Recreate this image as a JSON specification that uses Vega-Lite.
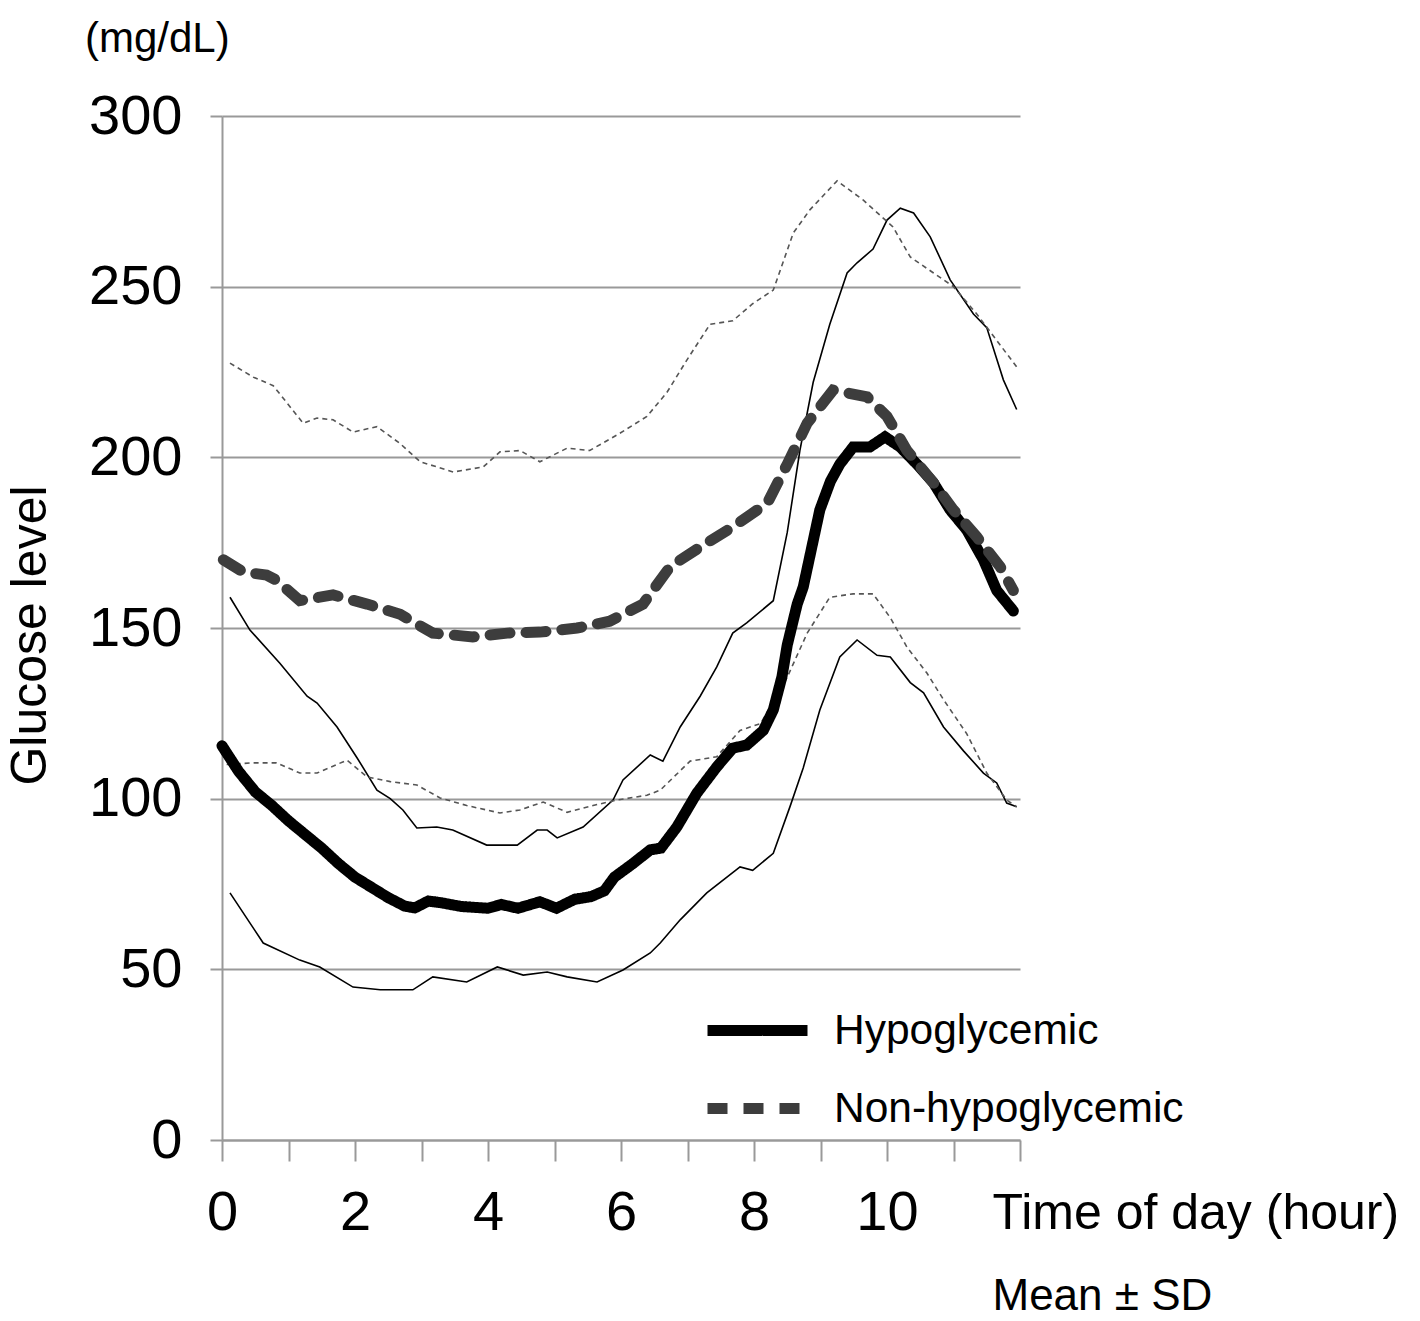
{
  "$schema": "https://vega.github.io/schema/vega-lite/v6.json",
  "autosize": "none",
  "padding": {"left": 222, "top": 116, "right": 400, "bottom": 181},
  "width": 798,
  "height": 1024,
  "background": "white",
  "config": {"font": "Liberation Sans", "view": {"stroke": null}},
  "title": {"text": "(mg/dL)", "anchor": "start", "frame": "group", "orient": "top", "fontSize": 42, "fontWeight": "normal", "color": "black", "baseline": "alphabetic", "dx": -137, "offset": -6},
  "datasets": {
    "d": [
      {"g":"Hypoglycemic","s":"mean","h":0,"v":115.5},{"g":"Hypoglycemic","s":"mean","h":0.25,"v":108},{"g":"Hypoglycemic","s":"mean","h":0.5,"v":102},{"g":"Hypoglycemic","s":"mean","h":0.75,"v":98},{"g":"Hypoglycemic","s":"mean","h":1,"v":93.5},{"g":"Hypoglycemic","s":"mean","h":1.25,"v":89.5},{"g":"Hypoglycemic","s":"mean","h":1.5,"v":85.5},{"g":"Hypoglycemic","s":"mean","h":1.75,"v":81},{"g":"Hypoglycemic","s":"mean","h":2,"v":77},{"g":"Hypoglycemic","s":"mean","h":2.25,"v":74},{"g":"Hypoglycemic","s":"mean","h":2.5,"v":71},{"g":"Hypoglycemic","s":"mean","h":2.75,"v":68.5},{"g":"Hypoglycemic","s":"mean","h":2.9,"v":68},{"g":"Hypoglycemic","s":"mean","h":3.1,"v":70},{"g":"Hypoglycemic","s":"mean","h":3.3,"v":69.5},{"g":"Hypoglycemic","s":"mean","h":3.6,"v":68.4},{"g":"Hypoglycemic","s":"mean","h":4,"v":67.9},{"g":"Hypoglycemic","s":"mean","h":4.2,"v":69},{"g":"Hypoglycemic","s":"mean","h":4.45,"v":67.9},{"g":"Hypoglycemic","s":"mean","h":4.78,"v":69.8},{"g":"Hypoglycemic","s":"mean","h":5.03,"v":67.9},{"g":"Hypoglycemic","s":"mean","h":5.3,"v":70.5},{"g":"Hypoglycemic","s":"mean","h":5.55,"v":71.3},{"g":"Hypoglycemic","s":"mean","h":5.75,"v":73},{"g":"Hypoglycemic","s":"mean","h":5.9,"v":77},{"g":"Hypoglycemic","s":"mean","h":6.18,"v":81},{"g":"Hypoglycemic","s":"mean","h":6.44,"v":85},{"g":"Hypoglycemic","s":"mean","h":6.6,"v":85.5},{"g":"Hypoglycemic","s":"mean","h":6.84,"v":91.7},{"g":"Hypoglycemic","s":"mean","h":7.14,"v":101.6},{"g":"Hypoglycemic","s":"mean","h":7.44,"v":109.3},{"g":"Hypoglycemic","s":"mean","h":7.68,"v":114.8},{"g":"Hypoglycemic","s":"mean","h":7.89,"v":115.7},{"g":"Hypoglycemic","s":"mean","h":8.14,"v":120},{"g":"Hypoglycemic","s":"mean","h":8.29,"v":126},{"g":"Hypoglycemic","s":"mean","h":8.42,"v":135.7},{"g":"Hypoglycemic","s":"mean","h":8.5,"v":145},{"g":"Hypoglycemic","s":"mean","h":8.65,"v":157},{"g":"Hypoglycemic","s":"mean","h":8.74,"v":162},{"g":"Hypoglycemic","s":"mean","h":8.99,"v":184.6},{"g":"Hypoglycemic","s":"mean","h":9.15,"v":193},{"g":"Hypoglycemic","s":"mean","h":9.29,"v":198},{"g":"Hypoglycemic","s":"mean","h":9.49,"v":203},{"g":"Hypoglycemic","s":"mean","h":9.74,"v":203},{"g":"Hypoglycemic","s":"mean","h":9.97,"v":206},{"g":"Hypoglycemic","s":"mean","h":10.2,"v":203},{"g":"Hypoglycemic","s":"mean","h":10.45,"v":198},{"g":"Hypoglycemic","s":"mean","h":10.7,"v":192.5},{"g":"Hypoglycemic","s":"mean","h":10.95,"v":184.6},{"g":"Hypoglycemic","s":"mean","h":11.2,"v":178.7},{"g":"Hypoglycemic","s":"mean","h":11.45,"v":170},{"g":"Hypoglycemic","s":"mean","h":11.65,"v":161},{"g":"Hypoglycemic","s":"mean","h":11.9,"v":155},
      {"g":"Hypoglycemic","s":"upper","h":0.12,"v":159},{"g":"Hypoglycemic","s":"upper","h":0.42,"v":149.4},{"g":"Hypoglycemic","s":"upper","h":0.87,"v":139.7},{"g":"Hypoglycemic","s":"upper","h":1.28,"v":130},{"g":"Hypoglycemic","s":"upper","h":1.43,"v":128},{"g":"Hypoglycemic","s":"upper","h":1.73,"v":121},{"g":"Hypoglycemic","s":"upper","h":2.03,"v":112},{"g":"Hypoglycemic","s":"upper","h":2.33,"v":102.5},{"g":"Hypoglycemic","s":"upper","h":2.53,"v":100},{"g":"Hypoglycemic","s":"upper","h":2.72,"v":96.7},{"g":"Hypoglycemic","s":"upper","h":2.93,"v":91.4},{"g":"Hypoglycemic","s":"upper","h":3.23,"v":91.7},{"g":"Hypoglycemic","s":"upper","h":3.47,"v":90.8},{"g":"Hypoglycemic","s":"upper","h":3.98,"v":86.4},{"g":"Hypoglycemic","s":"upper","h":4.44,"v":86.4},{"g":"Hypoglycemic","s":"upper","h":4.74,"v":90.8},{"g":"Hypoglycemic","s":"upper","h":4.89,"v":90.8},{"g":"Hypoglycemic","s":"upper","h":5.04,"v":88.5},{"g":"Hypoglycemic","s":"upper","h":5.43,"v":91.7},{"g":"Hypoglycemic","s":"upper","h":5.88,"v":99.6},{"g":"Hypoglycemic","s":"upper","h":6.03,"v":105.5},{"g":"Hypoglycemic","s":"upper","h":6.44,"v":112.8},{"g":"Hypoglycemic","s":"upper","h":6.63,"v":111},{"g":"Hypoglycemic","s":"upper","h":6.89,"v":121},{"g":"Hypoglycemic","s":"upper","h":7.19,"v":130},{"g":"Hypoglycemic","s":"upper","h":7.44,"v":138.6},{"g":"Hypoglycemic","s":"upper","h":7.68,"v":148.5},{"g":"Hypoglycemic","s":"upper","h":7.89,"v":151.5},{"g":"Hypoglycemic","s":"upper","h":8.29,"v":158},{"g":"Hypoglycemic","s":"upper","h":8.5,"v":178},{"g":"Hypoglycemic","s":"upper","h":8.69,"v":202},{"g":"Hypoglycemic","s":"upper","h":8.89,"v":222},{"g":"Hypoglycemic","s":"upper","h":9.14,"v":239},{"g":"Hypoglycemic","s":"upper","h":9.4,"v":254},{"g":"Hypoglycemic","s":"upper","h":9.55,"v":257},{"g":"Hypoglycemic","s":"upper","h":9.79,"v":261},{"g":"Hypoglycemic","s":"upper","h":10.0,"v":269.5},{"g":"Hypoglycemic","s":"upper","h":10.2,"v":273},{"g":"Hypoglycemic","s":"upper","h":10.4,"v":271.6},{"g":"Hypoglycemic","s":"upper","h":10.65,"v":264.6},{"g":"Hypoglycemic","s":"upper","h":10.95,"v":252},{"g":"Hypoglycemic","s":"upper","h":11.3,"v":242},{"g":"Hypoglycemic","s":"upper","h":11.5,"v":238},{"g":"Hypoglycemic","s":"upper","h":11.75,"v":222.7},{"g":"Hypoglycemic","s":"upper","h":11.95,"v":214},
      {"g":"Hypoglycemic","s":"lower","h":0.12,"v":72.4},{"g":"Hypoglycemic","s":"lower","h":0.62,"v":57.7},{"g":"Hypoglycemic","s":"lower","h":1.17,"v":52.7},{"g":"Hypoglycemic","s":"lower","h":1.47,"v":50.7},{"g":"Hypoglycemic","s":"lower","h":1.97,"v":44.8},{"g":"Hypoglycemic","s":"lower","h":2.38,"v":44},{"g":"Hypoglycemic","s":"lower","h":2.87,"v":44},{"g":"Hypoglycemic","s":"lower","h":3.17,"v":47.8},{"g":"Hypoglycemic","s":"lower","h":3.68,"v":46.3},{"g":"Hypoglycemic","s":"lower","h":4.14,"v":50.7},{"g":"Hypoglycemic","s":"lower","h":4.53,"v":48.3},{"g":"Hypoglycemic","s":"lower","h":4.89,"v":49.2},{"g":"Hypoglycemic","s":"lower","h":5.19,"v":47.8},{"g":"Hypoglycemic","s":"lower","h":5.64,"v":46.3},{"g":"Hypoglycemic","s":"lower","h":6.03,"v":49.8},{"g":"Hypoglycemic","s":"lower","h":6.44,"v":54.8},{"g":"Hypoglycemic","s":"lower","h":6.59,"v":57.7},{"g":"Hypoglycemic","s":"lower","h":6.89,"v":64.5},{"g":"Hypoglycemic","s":"lower","h":7.29,"v":72.4},{"g":"Hypoglycemic","s":"lower","h":7.79,"v":80},{"g":"Hypoglycemic","s":"lower","h":7.98,"v":79},{"g":"Hypoglycemic","s":"lower","h":8.29,"v":84},{"g":"Hypoglycemic","s":"lower","h":8.54,"v":97.6},{"g":"Hypoglycemic","s":"lower","h":8.74,"v":109},{"g":"Hypoglycemic","s":"lower","h":8.99,"v":126},{"g":"Hypoglycemic","s":"lower","h":9.29,"v":141.5},{"g":"Hypoglycemic","s":"lower","h":9.55,"v":146.5},{"g":"Hypoglycemic","s":"lower","h":9.85,"v":142},{"g":"Hypoglycemic","s":"lower","h":10.05,"v":141.5},{"g":"Hypoglycemic","s":"lower","h":10.35,"v":134},{"g":"Hypoglycemic","s":"lower","h":10.55,"v":131},{"g":"Hypoglycemic","s":"lower","h":10.85,"v":121},{"g":"Hypoglycemic","s":"lower","h":11.15,"v":114},{"g":"Hypoglycemic","s":"lower","h":11.45,"v":107.5},{"g":"Hypoglycemic","s":"lower","h":11.65,"v":104.6},{"g":"Hypoglycemic","s":"lower","h":11.8,"v":98.7},{"g":"Hypoglycemic","s":"lower","h":11.95,"v":97.6},
      {"g":"Non-hypoglycemic","s":"mean","h":0.02,"v":170},{"g":"Non-hypoglycemic","s":"mean","h":0.32,"v":166.4},{"g":"Non-hypoglycemic","s":"mean","h":0.67,"v":165.5},{"g":"Non-hypoglycemic","s":"mean","h":0.82,"v":164},{"g":"Non-hypoglycemic","s":"mean","h":1.17,"v":158},{"g":"Non-hypoglycemic","s":"mean","h":1.67,"v":159.7},{"g":"Non-hypoglycemic","s":"mean","h":2.18,"v":157},{"g":"Non-hypoglycemic","s":"mean","h":2.68,"v":154},{"g":"Non-hypoglycemic","s":"mean","h":3.17,"v":148.5},{"g":"Non-hypoglycemic","s":"mean","h":3.77,"v":147.4},{"g":"Non-hypoglycemic","s":"mean","h":4.29,"v":148.5},{"g":"Non-hypoglycemic","s":"mean","h":4.78,"v":148.8},{"g":"Non-hypoglycemic","s":"mean","h":5.34,"v":150},{"g":"Non-hypoglycemic","s":"mean","h":5.83,"v":152},{"g":"Non-hypoglycemic","s":"mean","h":6.33,"v":157},{"g":"Non-hypoglycemic","s":"mean","h":6.74,"v":168},{"g":"Non-hypoglycemic","s":"mean","h":7.19,"v":173.7},{"g":"Non-hypoglycemic","s":"mean","h":7.68,"v":179.6},{"g":"Non-hypoglycemic","s":"mean","h":8.2,"v":186.6},{"g":"Non-hypoglycemic","s":"mean","h":8.5,"v":198},{"g":"Non-hypoglycemic","s":"mean","h":8.8,"v":210},{"g":"Non-hypoglycemic","s":"mean","h":9.19,"v":219.7},{"g":"Non-hypoglycemic","s":"mean","h":9.7,"v":217.7},{"g":"Non-hypoglycemic","s":"mean","h":10.0,"v":212},{"g":"Non-hypoglycemic","s":"mean","h":10.3,"v":202},{"g":"Non-hypoglycemic","s":"mean","h":10.7,"v":192.5},{"g":"Non-hypoglycemic","s":"mean","h":11.0,"v":184.6},{"g":"Non-hypoglycemic","s":"mean","h":11.35,"v":176.7},{"g":"Non-hypoglycemic","s":"mean","h":11.7,"v":168},{"g":"Non-hypoglycemic","s":"mean","h":11.9,"v":161},
      {"g":"Non-hypoglycemic","s":"upper","h":0.12,"v":227.6},{"g":"Non-hypoglycemic","s":"upper","h":0.47,"v":223.5},{"g":"Non-hypoglycemic","s":"upper","h":0.77,"v":221},{"g":"Non-hypoglycemic","s":"upper","h":1.22,"v":210},{"g":"Non-hypoglycemic","s":"upper","h":1.43,"v":211.5},{"g":"Non-hypoglycemic","s":"upper","h":1.67,"v":211},{"g":"Non-hypoglycemic","s":"upper","h":1.97,"v":207.4},{"g":"Non-hypoglycemic","s":"upper","h":2.33,"v":209},{"g":"Non-hypoglycemic","s":"upper","h":2.68,"v":204},{"g":"Non-hypoglycemic","s":"upper","h":2.98,"v":198.7},{"g":"Non-hypoglycemic","s":"upper","h":3.48,"v":195.7},{"g":"Non-hypoglycemic","s":"upper","h":3.93,"v":197.2},{"g":"Non-hypoglycemic","s":"upper","h":4.18,"v":201.6},{"g":"Non-hypoglycemic","s":"upper","h":4.48,"v":202},{"g":"Non-hypoglycemic","s":"upper","h":4.78,"v":198.7},{"g":"Non-hypoglycemic","s":"upper","h":5.19,"v":202.7},{"g":"Non-hypoglycemic","s":"upper","h":5.53,"v":202},{"g":"Non-hypoglycemic","s":"upper","h":5.98,"v":207},{"g":"Non-hypoglycemic","s":"upper","h":6.39,"v":212},{"g":"Non-hypoglycemic","s":"upper","h":6.69,"v":219},{"g":"Non-hypoglycemic","s":"upper","h":6.99,"v":228.5},{"g":"Non-hypoglycemic","s":"upper","h":7.34,"v":239},{"g":"Non-hypoglycemic","s":"upper","h":7.68,"v":240},{"g":"Non-hypoglycemic","s":"upper","h":7.98,"v":245},{"g":"Non-hypoglycemic","s":"upper","h":8.29,"v":249},{"g":"Non-hypoglycemic","s":"upper","h":8.59,"v":265.7},{"g":"Non-hypoglycemic","s":"upper","h":8.84,"v":272.5},{"g":"Non-hypoglycemic","s":"upper","h":9.25,"v":281},{"g":"Non-hypoglycemic","s":"upper","h":9.64,"v":275.4},{"g":"Non-hypoglycemic","s":"upper","h":10.09,"v":267.5},{"g":"Non-hypoglycemic","s":"upper","h":10.35,"v":258.7},{"g":"Non-hypoglycemic","s":"upper","h":10.7,"v":254},{"g":"Non-hypoglycemic","s":"upper","h":11.0,"v":250},{"g":"Non-hypoglycemic","s":"upper","h":11.35,"v":242},{"g":"Non-hypoglycemic","s":"upper","h":11.95,"v":226.5},
      {"g":"Non-hypoglycemic","s":"lower","h":0.07,"v":110},{"g":"Non-hypoglycemic","s":"lower","h":0.47,"v":110.5},{"g":"Non-hypoglycemic","s":"lower","h":0.82,"v":110.5},{"g":"Non-hypoglycemic","s":"lower","h":1.17,"v":107.5},{"g":"Non-hypoglycemic","s":"lower","h":1.43,"v":107.5},{"g":"Non-hypoglycemic","s":"lower","h":1.88,"v":111.3},{"g":"Non-hypoglycemic","s":"lower","h":2.18,"v":106.4},{"g":"Non-hypoglycemic","s":"lower","h":2.53,"v":105},{"g":"Non-hypoglycemic","s":"lower","h":2.93,"v":104},{"g":"Non-hypoglycemic","s":"lower","h":3.28,"v":100.2},{"g":"Non-hypoglycemic","s":"lower","h":3.68,"v":98},{"g":"Non-hypoglycemic","s":"lower","h":4.18,"v":95.8},{"g":"Non-hypoglycemic","s":"lower","h":4.48,"v":96.7},{"g":"Non-hypoglycemic","s":"lower","h":4.83,"v":99},{"g":"Non-hypoglycemic","s":"lower","h":5.19,"v":96},{"g":"Non-hypoglycemic","s":"lower","h":5.58,"v":98},{"g":"Non-hypoglycemic","s":"lower","h":5.94,"v":99.6},{"g":"Non-hypoglycemic","s":"lower","h":6.39,"v":101},{"g":"Non-hypoglycemic","s":"lower","h":6.59,"v":102.5},{"g":"Non-hypoglycemic","s":"lower","h":7.04,"v":111},{"g":"Non-hypoglycemic","s":"lower","h":7.44,"v":112.3},{"g":"Non-hypoglycemic","s":"lower","h":7.79,"v":120},{"g":"Non-hypoglycemic","s":"lower","h":8.1,"v":122},{"g":"Non-hypoglycemic","s":"lower","h":8.5,"v":135.6},{"g":"Non-hypoglycemic","s":"lower","h":8.8,"v":148.5},{"g":"Non-hypoglycemic","s":"lower","h":9.14,"v":159},{"g":"Non-hypoglycemic","s":"lower","h":9.49,"v":160},{"g":"Non-hypoglycemic","s":"lower","h":9.79,"v":160},{"g":"Non-hypoglycemic","s":"lower","h":10.05,"v":153},{"g":"Non-hypoglycemic","s":"lower","h":10.3,"v":144.4},{"g":"Non-hypoglycemic","s":"lower","h":10.6,"v":136.8},{"g":"Non-hypoglycemic","s":"lower","h":10.85,"v":129},{"g":"Non-hypoglycemic","s":"lower","h":11.2,"v":119},{"g":"Non-hypoglycemic","s":"lower","h":11.5,"v":107.5},{"g":"Non-hypoglycemic","s":"lower","h":11.8,"v":99.6},{"g":"Non-hypoglycemic","s":"lower","h":11.95,"v":97.6}
    ]
  },
  "data": {"name": "d"},
  "encoding": {
    "y": {"field": "v", "type": "quantitative", "scale": {"domain": [0, 300], "nice": false, "zero": false},
      "axis": {"values": [0, 50, 100, 150, 200, 250, 300], "grid": true, "gridColor": "#999999", "gridWidth": 2, "tickSize": 12, "tickColor": "#999999", "tickWidth": 2, "domainColor": "#999999", "domainWidth": 2, "labelFontSize": 56, "labelColor": "black", "labelPadding": 28, "labelFlush": false, "labelOverlap": false, "title": "Glucose level", "titleFontSize": 50, "titleFontWeight": "normal", "titleColor": "black", "titleX": -192, "titleY": 519, "titleBaseline": "middle", "titleAlign": "center", "titleAngle": 270}}
  },
  "layer": [
    {
      "transform": [{"filter": "datum.g == 'Hypoglycemic' && datum.s != 'mean'"}],
      "mark": {"type": "line", "color": "black", "strokeWidth": 1.6},
      "encoding": {
        "x": {"field": "h", "type": "quantitative", "scale": {"domain": [0, 12], "nice": false},
          "axis": {"values": [0,1,2,3,4,5,6,7,8,9,10,11,12], "grid": false, "tickSize": 21, "tickColor": "#999999", "tickWidth": 2, "domainColor": "#999999", "domainWidth": 2, "labelFontSize": 56, "labelColor": "black", "labelPadding": 24, "labelFlush": false, "labelOverlap": false, "labelExpr": "datum.value % 2 == 0 && datum.value < 12 ? datum.label : ''", "title": "Time of day (hour)", "titleFontSize": 50, "titleFontWeight": "normal", "titleColor": "black", "titleX": 770, "titleY": 73, "titleAlign": "left", "titleBaseline": "middle"}},
        "detail": {"field": "s"}
      }
    },
    {
      "transform": [{"filter": "datum.g == 'Non-hypoglycemic' && datum.s != 'mean'"}],
      "mark": {"type": "line", "color": "#555555", "strokeWidth": 1.6, "strokeDash": [5, 4]},
      "encoding": {
        "x": {"field": "h", "type": "quantitative", "axis": null},
        "detail": {"field": "s"}
      }
    },
    {
      "transform": [{"filter": "datum.s == 'mean'"}],
      "mark": {"type": "line", "strokeWidth": 11, "strokeCap": "round"},
      "encoding": {
        "x": {"field": "h", "type": "quantitative",
          "axis": {"orient": "bottom", "labels": false, "ticks": false, "domain": false, "grid": false, "title": "Mean ± SD", "titleFontSize": 44, "titleFontWeight": "normal", "titleColor": "black", "titleX": 770, "titleY": 156, "titleAlign": "left", "titleBaseline": "middle"}},
        "color": {"field": "g", "type": "nominal", "scale": {"domain": ["Hypoglycemic", "Non-hypoglycemic"], "range": ["#000000", "#3d3d3d"]},
          "legend": {"title": null, "orient": "none", "legendX": 480, "legendY": 859, "symbolType": "stroke", "symbolSize": 10000, "symbolStrokeWidth": 11, "labelFontSize": 42.5, "labelColor": "black", "labelOffset": 21, "labelLimit": 0, "rowPadding": -3, "padding": 0}},
        "strokeDash": {"field": "g", "type": "nominal", "scale": {"domain": ["Hypoglycemic", "Non-hypoglycemic"], "range": [[1, 0], [20, 16]]},
          "legend": {"title": null, "orient": "none", "legendX": 480, "legendY": 859, "symbolType": "stroke", "symbolSize": 10000, "symbolStrokeWidth": 11, "labelFontSize": 42.5, "labelColor": "black", "labelOffset": 21, "labelLimit": 0, "rowPadding": -3, "padding": 0}}
      }
    }
  ],
  "resolve": {"axis": {"x": "independent"}}
}
